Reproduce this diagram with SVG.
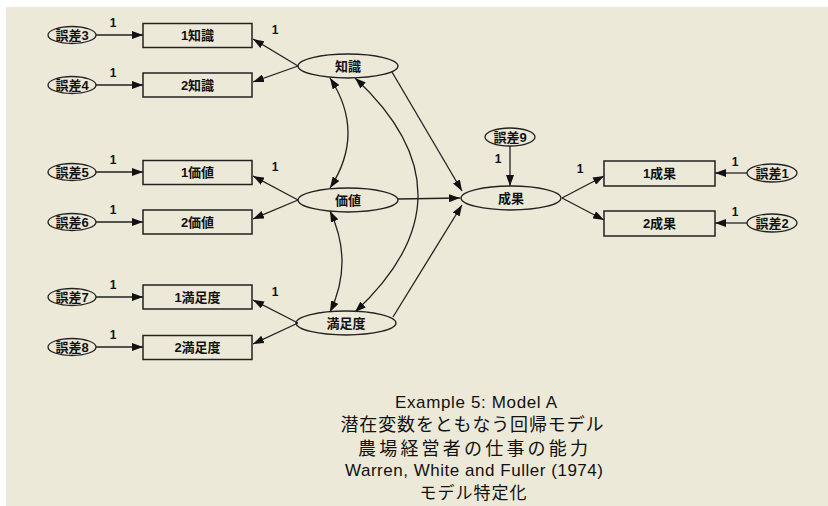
<svg xmlns="http://www.w3.org/2000/svg" width="828" height="506" viewBox="0 0 828 506">
<defs>
<style>
.bg{fill:#ECE9D8}
.box{fill:none;stroke:#222;stroke-width:1.5}
.ell{fill:none;stroke:#222;stroke-width:1.3}
.lbl{font-family:"Liberation Sans","Noto Sans CJK JP",sans-serif;font-size:13px;font-weight:bold;fill:#111;text-anchor:middle;dominant-baseline:central}
.elbl{font-family:"Liberation Sans","Noto Sans CJK JP",sans-serif;font-size:13px;font-weight:bold;fill:#111;text-anchor:middle;dominant-baseline:central}
.num{font-family:"Liberation Sans",sans-serif;font-size:12px;font-weight:bold;fill:#111;text-anchor:middle}
.edge{fill:none;stroke:#222;stroke-width:1.3;marker-end:url(#ah)}
.dbl{fill:none;stroke:#222;stroke-width:1.3;marker-end:url(#ah);marker-start:url(#ah)}
.cap{font-family:"Liberation Sans","Noto Sans CJK JP",sans-serif;fill:#111;text-anchor:middle}
</style>
<marker id="ah" markerWidth="11" markerHeight="8" refX="11" refY="4" orient="auto-start-reverse" markerUnits="userSpaceOnUse">
<path d="M0,0 L11,4 L0,8 z" fill="#111"/>
</marker>
</defs>
<rect width="828" height="506" fill="#fff"/>
<rect class="bg" x="6" y="7" width="822" height="499"/>

<g id="connectors">
<line class="edge" x1="96" y1="35" x2="143" y2="35"/>
<line class="edge" x1="96" y1="85" x2="143" y2="85"/>
<line class="edge" x1="96" y1="172" x2="143" y2="172"/>
<line class="edge" x1="96" y1="222" x2="143" y2="222"/>
<line class="edge" x1="96" y1="297" x2="143" y2="297"/>
<line class="edge" x1="96" y1="347" x2="143" y2="347"/>
<line class="edge" x1="298" y1="66" x2="253" y2="39"/>
<line class="edge" x1="298" y1="66" x2="253" y2="82"/>
<line class="edge" x1="298" y1="200" x2="253" y2="176"/>
<line class="edge" x1="298" y1="200" x2="253" y2="219"/>
<line class="edge" x1="298" y1="323" x2="253" y2="300"/>
<line class="edge" x1="298" y1="323" x2="253" y2="344"/>
<line class="edge" x1="392" y1="72" x2="462" y2="191"/>
<line class="edge" x1="398" y1="199" x2="460" y2="198"/>
<line class="edge" x1="393" y1="317" x2="462" y2="205"/>
<line class="edge" x1="510" y1="146" x2="510" y2="186"/>
<line class="edge" x1="562" y1="198" x2="604" y2="176"/>
<line class="edge" x1="562" y1="198" x2="604" y2="220"/>
<line class="edge" x1="747" y1="173" x2="715" y2="173"/>
<line class="edge" x1="747" y1="223" x2="715" y2="223"/>
<path class="dbl" d="M330,78 Q366,133 330,188"/>
<path class="dbl" d="M330,211 Q354,262 330,312"/>
<path class="dbl" d="M355,78 Q481,195 355,312"/>
<text class="num" x="113" y="27">1</text>
<text class="num" x="113" y="77">1</text>
<text class="num" x="113" y="164">1</text>
<text class="num" x="113" y="214">1</text>
<text class="num" x="113" y="289">1</text>
<text class="num" x="113" y="339">1</text>
<text class="num" x="275" y="34">1</text>
<text class="num" x="275" y="171">1</text>
<text class="num" x="275" y="296">1</text>
<text class="num" x="498" y="163">1</text>
<text class="num" x="580" y="173">1</text>
<text class="num" x="735" y="166">1</text>
<text class="num" x="735" y="216">1</text>
</g>

<g id="e3"><ellipse class="ell" cx="72" cy="35" rx="24" ry="8.5"/><text class="elbl" x="72" y="35">誤差3</text></g>
<g id="e4"><ellipse class="ell" cx="72" cy="85" rx="24" ry="8.5"/><text class="elbl" x="72" y="85">誤差4</text></g>
<g id="e5"><ellipse class="ell" cx="72" cy="172" rx="24" ry="8.5"/><text class="elbl" x="72" y="172">誤差5</text></g>
<g id="e6"><ellipse class="ell" cx="72" cy="222" rx="24" ry="8.5"/><text class="elbl" x="72" y="222">誤差6</text></g>
<g id="e7"><ellipse class="ell" cx="72" cy="297" rx="24" ry="8.5"/><text class="elbl" x="72" y="297">誤差7</text></g>
<g id="e8"><ellipse class="ell" cx="72" cy="347" rx="24" ry="8.5"/><text class="elbl" x="72" y="347">誤差8</text></g>
<g id="e9"><ellipse class="ell" cx="510" cy="137" rx="25" ry="9"/><text class="elbl" x="510" y="137">誤差9</text></g>
<g id="e1"><ellipse class="ell" cx="772" cy="173" rx="25" ry="9"/><text class="elbl" x="772" y="173">誤差1</text></g>
<g id="e2"><ellipse class="ell" cx="772" cy="223" rx="25" ry="9"/><text class="elbl" x="772" y="223">誤差2</text></g>

<g id="k1"><rect class="box" x="143" y="23.5" width="109" height="24"/><text class="lbl" x="197.5" y="35.5">1知識</text></g>
<g id="k2"><rect class="box" x="143" y="73" width="109" height="24"/><text class="lbl" x="197.5" y="85">2知識</text></g>
<g id="v1"><rect class="box" x="143" y="160.5" width="109" height="24"/><text class="lbl" x="197.5" y="172.5">1価値</text></g>
<g id="v2"><rect class="box" x="143" y="210" width="109" height="24"/><text class="lbl" x="197.5" y="222">2価値</text></g>
<g id="s1"><rect class="box" x="143" y="285" width="109" height="24"/><text class="lbl" x="197.5" y="297">1満足度</text></g>
<g id="s2"><rect class="box" x="143" y="335.5" width="109" height="24"/><text class="lbl" x="197.5" y="347.5">2満足度</text></g>
<g id="p1"><rect class="box" x="604" y="161" width="111" height="25"/><text class="lbl" x="659.5" y="173.5">1成果</text></g>
<g id="p2"><rect class="box" x="604" y="211" width="111" height="25"/><text class="lbl" x="659.5" y="223.5">2成果</text></g>

<g id="knowledge"><ellipse class="ell" cx="348" cy="66" rx="50" ry="12"/><text class="lbl" x="348" y="66">知識</text></g>
<g id="value"><ellipse class="ell" cx="348" cy="200" rx="50" ry="12"/><text class="lbl" x="348" y="200">価値</text></g>
<g id="satisfaction"><ellipse class="ell" cx="346" cy="323" rx="50" ry="12"/><text class="lbl" x="346" y="323">満足度</text></g>
<g id="performance"><ellipse class="ell" cx="511" cy="198" rx="50" ry="12"/><text class="lbl" x="511" y="198">成果</text></g>

<g id="caption">
<text class="cap" x="476" y="408" font-size="17" textLength="162">Example 5: Model A</text>
<text class="cap" x="472" y="431" font-size="18" textLength="263">潜在変数をともなう回帰モデル</text>
<text class="cap" x="473" y="455" font-size="18" textLength="230">農場経営者の仕事の能力</text>
<text class="cap" x="474" y="476" font-size="17" textLength="258">Warren, White and Fuller (1974)</text>
<text class="cap" x="473" y="499" font-size="17" textLength="107">モデル特定化</text>
</g>
</svg>
